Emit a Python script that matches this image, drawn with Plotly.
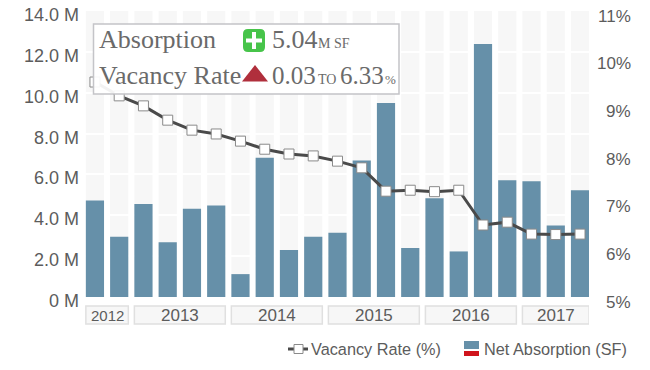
import plotly.graph_objects as go

absorption = [4.72, 2.95, 4.55, 2.68, 4.32, 4.48, 1.12, 6.82, 2.3, 2.95, 3.15, 6.68, 9.5, 2.4, 4.83, 2.23, 12.38, 5.72, 5.66, 3.5, 5.22]
vacancy = [9.51, 9.22, 9.01, 8.71, 8.50, 8.42, 8.27, 8.10, 8.00, 7.96, 7.85, 7.71, 7.22, 7.24, 7.21, 7.24, 6.51, 6.57, 6.32, 6.31, 6.32]
year_labels = ["2012", "2013", "2014", "2015", "2016", "2017"]
year_first = [0, 2, 6, 10, 14, 18]
year_last = [1, 5, 9, 13, 17, 20]
year_sizes = [15, 17, 17, 17, 17, 17]
left_ticks = [0, 2, 4, 6, 8, 10, 12, 14]
left_labels = ["0 M", "2.0 M", "4.0 M", "6.0 M", "8.0 M", "10.0 M", "12.0 M", "14.0 M"]
right_ticks = [5, 6, 7, 8, 9, 10, 11]
right_labels = ["5%", "6%", "7%", "8%", "9%", "10%", "11%"]

W, H = 650, 370
L, R, T, B = 85, 589, 11, 297
TXT = "#5c5c5c"
SERIF = "Liberation Serif"
SANS = "Liberation Sans"
BAR = "#6690a9"
hw = 0.375
xs = list(range(len(absorption)))

def px(x):
    return (x - L) / (R - L)

def py(y):
    return (B - y) / (B - T)

fig = go.Figure()
fig.add_trace(go.Bar(x=xs, y=absorption, name="Net Absorption (SF)", marker=dict(color=BAR, line=dict(width=0)),
                     width=hw * 2, yaxis="y", showlegend=False))
fig.add_trace(go.Scatter(x=xs, y=vacancy, name="Vacancy Rate (%)", mode="lines+markers", yaxis="y2", showlegend=False,
                         line=dict(color="#4a4a4a", width=3),
                         marker=dict(symbol="square", size=10, color="white", line=dict(color="#8a8a8a", width=1))))

shapes = []
ann = []
for x in xs:
    shapes.append(dict(type="rect", layer="below", xref="x", yref="y", x0=x - hw, x1=x + hw, y0=0, y1=14,
                       fillcolor="#f7f7f7", line=dict(width=0)))
for lab, a, b, s in zip(year_labels, year_first, year_last, year_sizes):
    shapes.append(dict(type="rect", xref="x", yref="paper", x0=a - hw, x1=b + hw, y0=py(324), y1=py(306),
                       fillcolor="#f7f7f7", line=dict(color="#e0e0e0", width=1.5)))
    ann.append(dict(xref="x", yref="paper", x=(a + b) / 2, y=py(315), text=lab, showarrow=False, yanchor="middle",
                    font=dict(family=SANS, size=s, color=TXT)))
for v, lab in zip(left_ticks, left_labels):
    ann.append(dict(xref="paper", yref="y", x=px(81), y=v, yshift=-4, text=lab, showarrow=False, xanchor="right",
                    yanchor="middle", font=dict(family=SANS, size=18, color=TXT)))
for v, lab in zip(right_ticks, right_labels):
    ann.append(dict(xref="paper", yref="y2", x=px(633), y=v, yshift=-5, text=lab, showarrow=False, xanchor="right",
                    yanchor="middle", font=dict(family=SANS, size=17, color=TXT)))

def rect(x0, y0, x1, y1, **kw):
    return dict(type="rect", xref="paper", yref="paper", x0=px(x0), x1=px(x1), y0=py(y1), y1=py(y0), **kw)

shapes.append(rect(93.5, 24, 399, 94, fillcolor="rgba(255,255,255,0.93)", line=dict(color="#c4c4c8", width=1.5)))
shapes.append(dict(type="path", xref="paper", yref="paper",
                   path="M {} {} L {} {} Q {} {} {} {} L {} {} Q {} {} {} {} L {} {} Q {} {} {} {} L {} {} Q {} {} {} {} Z".format(
                       px(248), py(29), px(260), py(29), px(265), py(29), px(265), py(34), px(265), py(47),
                       px(265), py(52), px(260), py(52), px(248), py(52), px(243), py(52), px(243), py(47),
                       px(243), py(34), px(243), py(29), px(248), py(29)),
                   fillcolor="#47c44a", line=dict(width=0)))
shapes.append(rect(252, 32, 256, 49, fillcolor="white", line=dict(width=0)))
shapes.append(rect(246, 38.5, 262, 42.5, fillcolor="white", line=dict(width=0)))
shapes.append(dict(type="path", xref="paper", yref="paper",
                   path="M {} {} L {} {} L {} {} Z".format(px(242), py(81.5), px(268), py(81.5), px(255), py(65)),
                   fillcolor="#b02f3c", line=dict(width=0)))

def label(x, y, text, size, family=SERIF, color="#6a6a6a"):
    ann.append(dict(xref="paper", yref="paper", x=px(x), y=py(y), text=text, showarrow=False, xanchor="left",
                    yanchor="middle", font=dict(family=family, size=size, color=color), borderpad=0, borderwidth=0))

label(99, 39, "Absorption", 26)
label(99, 75, "Vacancy Rate", 26)
label(272, 40, "5.04", 26)
label(318, 43, "M SF", 14)
label(272, 75, "0.03", 25)
label(318, 79, "TO", 14)
label(340, 75, "6.33", 25)
label(385, 79, "%", 13)

shapes.append(dict(type="line", xref="paper", yref="paper", x0=px(288), x1=px(308), y0=py(349), y1=py(349),
                   line=dict(color="#4a4a4a", width=3)))
shapes.append(rect(294, 344.5, 303, 353.5, fillcolor="white", line=dict(color="#8a8a8a", width=1)))
shapes.append(rect(464, 341, 479, 349, fillcolor=BAR, line=dict(width=0)))
shapes.append(rect(464, 351, 479, 356, fillcolor="#d0141c", line=dict(width=0)))
label(311, 349, "Vacancy Rate (%)", 16.3, family=SANS, color=TXT)
label(484, 349, "Net Absorption (SF)", 16.3, family=SANS, color=TXT)

fig.update_layout(
    width=W, height=H, autosize=False,
    margin=dict(l=L, r=W - R, t=T, b=H - B),
    paper_bgcolor="white", plot_bgcolor="rgba(0,0,0,0)",
    bargap=0.25, showlegend=False, shapes=shapes, annotations=ann,
    xaxis=dict(range=[-0.41, 20.37], showgrid=False, zeroline=False, showticklabels=False, ticks="", showline=False),
    yaxis=dict(range=[0, 14], tickvals=left_ticks, showticklabels=False, showgrid=True, gridcolor="white", gridwidth=1.5,
               zeroline=False, ticks="", showline=False),
    yaxis2=dict(range=[5, 11], tickvals=right_ticks, overlaying="y", side="right", showticklabels=False, showgrid=False,
                zeroline=False, ticks="", showline=False),
)
fig.write_html("out.html", config={"displayModeBar": False},
               post_script="document.body.style.margin='0';document.body.style.overflow='hidden';")
